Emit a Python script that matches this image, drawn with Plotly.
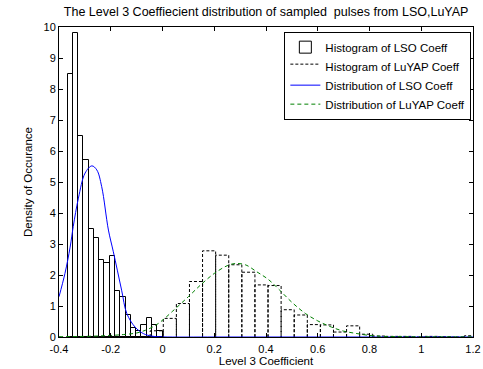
import plotly.graph_objects as go

# ---- data ----
lso_bin_start = -0.367
lso_bin_width = 0.0204
lso_counts = [8.5, 9.8, 6.5, 5.7, 3.5, 3.2, 2.5, 2.4, 2.6, 1.5, 1.3, 0.7, 0.3, 0.2, 0.4, 0.6, 0.4, 0.2]

luyap_bin_start = -0.0476
luyap_bin_width = 0.0506
luyap_counts = [0.2, 0.6, 1.08, 1.79, 2.78, 2.64, 2.33, 2.09, 1.68, 1.66, 0.88, 0.71, 0.40, 0.39,
                0.16, 0.36, 0.09, 0.03, 0.02, 0.02, 0.0, 0.02, 0.01, 0.0, 0.04]

lso_dist_x = [-0.4, -0.377, -0.357, -0.345, -0.325, -0.299, -0.273, -0.254, -0.235, -0.209, -0.19,
              -0.158, -0.138, -0.106, -0.074, -0.042, 0.0, 0.2, 0.4, 0.6, 0.8, 1.0, 1.2]
lso_dist_y = [1.3, 2.05, 2.9, 3.56, 4.48, 5.29, 5.52, 5.39, 4.85, 3.45, 2.75,
              1.51, 0.76, 0.32, 0.11, 0.03, 0.005, 0.0, 0.0, 0.0, 0.0, 0.0, 0.0]

luyap_dist_x = [-0.4, -0.3, -0.2, -0.15, -0.1, -0.065, -0.03, 0.0, 0.04, 0.1, 0.15, 0.2, 0.25, 0.28,
                0.32, 0.365, 0.41, 0.453, 0.5, 0.552, 0.6, 0.653, 0.7, 0.752, 0.8, 0.855, 0.95, 1.2]
luyap_dist_y = [0.01, 0.02, 0.05, 0.08, 0.13, 0.22, 0.36, 0.54, 0.84, 1.3, 1.7, 2.05, 2.3, 2.37,
                2.33, 2.1, 1.85, 1.51, 1.12, 0.76, 0.52, 0.32, 0.19, 0.11, 0.05, 0.02, 0.01, 0.005]

x_ticks = [-0.4, -0.2, 0, 0.2, 0.4, 0.6, 0.8, 1.0, 1.2]
x_tick_labels = ["-0.4", "-0.2", "0", "0.2", "0.4", "0.6", "0.8", "1", "1.2"]
y_ticks = list(range(0, 11))

title_text = "The Level 3 Coeffiecient distribution of sampled\u00a0 pulses from LSO,LuYAP"

# ---- derived (bin centres / rectangle outlines) ----
lso_centers = [lso_bin_start + lso_bin_width * (i + 0.5) for i in range(len(lso_counts))]

lx, ly = [], []
for i, h in enumerate(luyap_counts):
    a = luyap_bin_start + luyap_bin_width * i
    b = a + luyap_bin_width
    lx += [a, a, b, b, None]
    ly += [0, h, h, 0, None]

FONT = "Liberation Sans, Arial, Helvetica, sans-serif"

fig = go.Figure()
fig.add_trace(go.Bar(
    x=lso_centers, y=lso_counts, width=[lso_bin_width] * len(lso_counts),
    marker=dict(color="rgba(0,0,0,0)", line=dict(color="black", width=1)),
    name="Histogram of LSO Coeff"))
fig.add_trace(go.Scatter(
    x=lx, y=ly, mode="lines", fill="toself", fillcolor="rgba(0,0,0,0)",
    line=dict(color="black", width=1, dash="3px,2px"),
    name="Histogram of LuYAP Coeff"))
fig.add_trace(go.Scatter(
    x=lso_dist_x, y=lso_dist_y, mode="lines", line=dict(color="#0000ff", width=1, shape="spline"),
    name="Distribution of LSO Coeff"))
fig.add_trace(go.Scatter(
    x=luyap_dist_x, y=luyap_dist_y, mode="lines",
    line=dict(color="#008000", width=1, dash="4px,3px", shape="spline"),
    name="Distribution of LuYAP Coeff"))

axis_common = dict(showline=True, linecolor="black", linewidth=1, mirror="ticks",
                   ticks="inside", ticklen=4, tickcolor="black", showgrid=False,
                   zeroline=False, automargin=False,
                   tickfont=dict(family=FONT, size=11, color="black"))

fig.update_layout(
    width=483, height=369,
    margin=dict(l=59, r=10, t=27, b=32),
    paper_bgcolor="white", plot_bgcolor="white",
    bargap=0, barmode="overlay",
    font=dict(family=FONT, size=11, color="black"),
    title=dict(text=title_text, x=0.551, xanchor="center", y=1 - 12 / 369, yanchor="middle",
               font=dict(family=FONT, size=12.5, color="black")),
    xaxis=dict(range=[-0.4, 1.2], tickvals=x_ticks, ticktext=x_tick_labels,
               ticklabelstandoff=2,
               title=dict(text="Level 3 Coefficient", standoff=1,
                          font=dict(family=FONT, size=11.5, color="black")),
               **axis_common),
    yaxis=dict(range=[0, 10], tickvals=y_ticks,
               title=dict(text="Density of Occurance", standoff=8,
                          font=dict(family=FONT, size=11.5, color="black")),
               **axis_common),
    legend=dict(x=0.996, y=0.985, xanchor="right", yanchor="top",
                bgcolor="white", bordercolor="black", borderwidth=1,
                font=dict(family=FONT, size=11.5, color="black"),
                tracegroupgap=0, itemwidth=30),
    showlegend=True,
)

fig.write_html("out.html")
